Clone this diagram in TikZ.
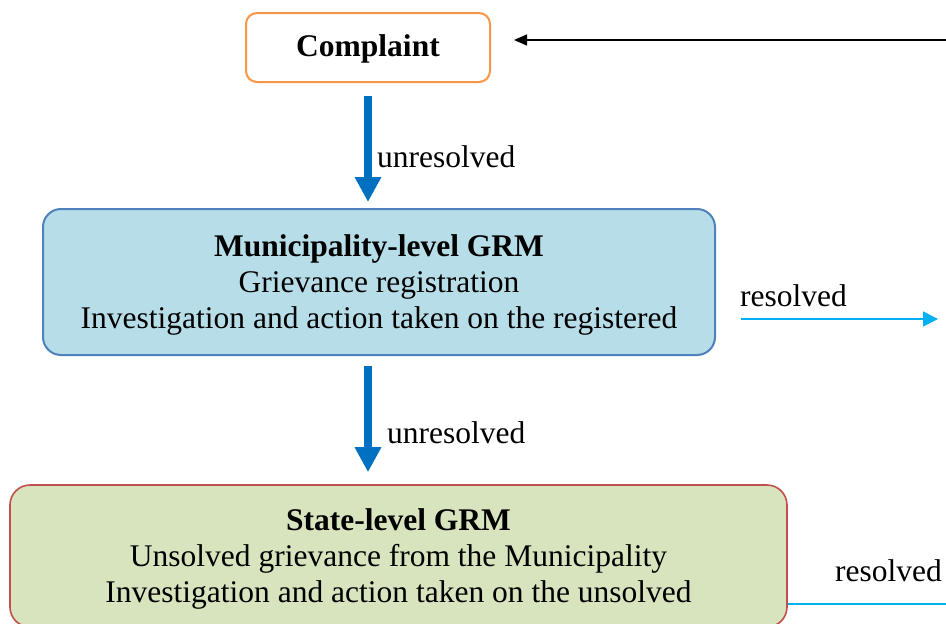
\documentclass[tikz,border=0pt]{standalone}
\usepackage{fontspec}
\setmainfont{Liberation Serif}
\usetikzlibrary{arrows.meta}
\definecolor{cOrange}{HTML}{F79646}
\definecolor{cBlueFill}{HTML}{B7DDE8}
\definecolor{cBlueLine}{HTML}{4F81BD}
\definecolor{cGreenFill}{HTML}{D7E4BD}
\definecolor{cRedLine}{HTML}{C0504D}
\definecolor{cArrow}{HTML}{0070C0}
\definecolor{cCyan}{HTML}{00B0F0}
\tikzset{
  txt/.style={font=\fontsize{31.5}{36}\selectfont, align=center, inner sep=0pt},
  box/.style={rounded corners=18pt, line width=2pt, inner sep=0pt},
  bigarrow/.style={draw=cArrow, line width=8.5pt, -{Triangle[width=25pt,length=25pt]}},
  lbl/.style={font=\fontsize{31.5}{36}\selectfont, inner sep=0pt},
}
\begin{document}
\begin{tikzpicture}[x=1pt,y=-1pt]
\clip (0,0) rectangle (946,624);
\useasboundingbox (0,0) rectangle (946,624);
\node[box, draw=cOrange, rounded corners=11pt, minimum width=244pt, minimum height=69pt] (complaint) at (368,47.5) {};
\node[txt] (ctext) at (368,49) {\textbf{Complaint}};
\node[box, draw=cBlueLine, fill=cBlueFill, minimum width=672pt, minimum height=146pt] (muni) at (379,282) {};
\node[txt] (mtext) at (379,285)
  {\textbf{Municipality-level GRM}\\Grievance registration\\Investigation and action taken on the registered};
\node[box, draw=cRedLine, fill=cGreenFill, line width=1.6pt, rounded corners=20pt, minimum width=777pt, minimum height=142pt] (state) at (398.5,556) {};
\node[txt] (stext) at (398.5,559)
  {\textbf{State-level GRM}\\Unsolved grievance from the Municipality\\Investigation and action taken on the unsolved};
\draw[bigarrow, shorten <=13pt, shorten >=6pt] (complaint.south) -- (complaint.south |- muni.north);
\node[lbl, anchor=west] (u1) at (377,157) {unresolved};
\draw[bigarrow, shorten <=10pt, shorten >=12pt] (muni.south -| complaint.south) -- (complaint.south |- state.north);
\node[lbl, anchor=west] (u2) at (387,433) {unresolved};
\coordinate (fb) at (946,40);
\draw[line width=1.3pt, -{Triangle[width=11pt,length=13pt]}, shorten >=23pt] (fb) -- (complaint.east |- fb);
\coordinate (r1s) at (741,319);
\coordinate (r1e) at (938,319);
\draw[cCyan, line width=1.6pt, -{Triangle[width=15pt,length=15pt]}] (r1s) -- (r1e);
\node[lbl, anchor=west] (res1) at (740,296) {resolved};
\coordinate (r2e) at (946,604);
\draw[cCyan, line width=1.6pt] (state.east |- r2e) -- (r2e);
\node[lbl, anchor=west] (res2) at (835,571) {resolved};
\end{tikzpicture}
\end{document}
